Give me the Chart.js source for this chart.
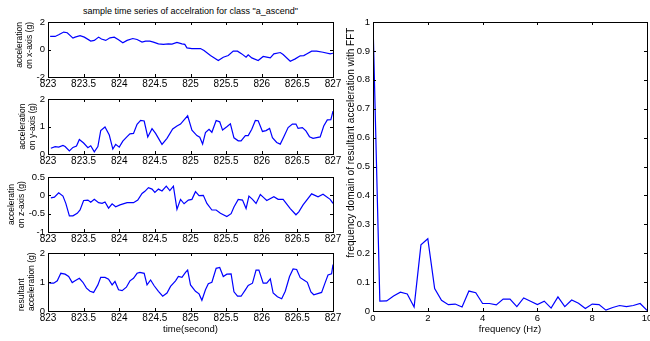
<!DOCTYPE html>
<html><head><meta charset="utf-8">
<script src="https://cdn.jsdelivr.net/npm/chart.js@4/dist/chart.umd.min.js"></script>
<style>
html,body{margin:0;padding:0;background:#fff;width:650px;height:341px;overflow:hidden;position:relative;}
canvas{position:absolute;}
#title{position:absolute;left:48px;width:285px;top:6px;line-height:10px;text-align:center;font-family:"Liberation Sans",Arial,sans-serif;font-size:9px;color:#000;white-space:nowrap;}
</style></head><body>
<div id="title">sample time series of accelration for class "a_ascend"</div>
<canvas id="c1" width="345" height="92" style="left:0;top:0"></canvas>
<canvas id="c2" width="345" height="80" style="left:0;top:90px"></canvas>
<canvas id="c3" width="345" height="80" style="left:0;top:168px"></canvas>
<canvas id="c4" width="345" height="97" style="left:0;top:244px"></canvas>
<canvas id="c5" width="320" height="341" style="left:340px;top:0"></canvas>
<script>
const FONT = '"Liberation Sans", Arial, sans-serif';

// ---- x-axis acceleration ----
const timeX = [823.03,823.10,823.15,823.22,823.27,823.35,823.38,823.45,823.51,823.60,823.65,823.71,823.75,823.81,823.87,823.93,823.99,824.05,824.11,824.19,824.25,824.32,824.37,824.43,824.48,824.55,824.62,824.69,824.74,824.81,824.88,824.92,824.95,825.02,825.14,825.19,825.28,825.39,825.46,825.53,825.60,825.66,825.72,825.78,825.81,825.86,825.95,826.02,826.07,826.12,826.17,826.26,826.30,826.40,826.47,826.54,826.59,826.63,826.70,826.77,826.86,826.96,827.0];
const accX = [0.95,0.95,1.07,1.27,1.22,0.83,0.90,1.00,0.90,0.61,0.66,0.90,0.76,0.66,0.85,0.90,0.71,0.49,0.66,0.80,0.73,0.54,0.61,0.61,0.54,0.41,0.37,0.41,0.39,0.51,0.41,0.37,0.12,0.07,0.07,-0.07,-0.44,-0.80,-0.56,-0.44,-0.12,-0.12,-0.32,-0.56,-0.39,-0.61,-0.80,-0.51,-0.56,-0.61,-0.32,-0.22,-0.37,-0.85,-0.68,-0.46,-0.44,-0.32,-0.12,-0.12,-0.20,-0.32,-0.27];

// ---- y-axis acceleration ----
const timeY = [823.04,823.10,823.15,823.21,823.24,823.30,823.35,823.40,823.44,823.50,823.56,823.60,823.65,823.70,823.74,823.80,823.86,823.91,823.95,824.00,824.05,824.11,824.15,824.20,824.25,824.30,824.35,824.40,824.46,824.51,824.60,824.67,824.75,824.81,824.86,824.91,824.96,825.02,825.09,825.13,825.17,825.21,825.26,825.30,825.36,825.41,825.45,825.51,825.56,825.61,825.67,825.71,825.77,825.81,825.86,825.91,825.95,826.01,826.06,826.11,826.15,826.21,826.26,826.31,826.37,826.43,826.48,826.51,826.57,826.62,826.67,826.72,826.82,826.87,826.92,826.97,827.0];
const accY = [0.21,0.27,0.25,0.31,0.27,0.11,0.24,0.29,0.53,0.40,0.23,0.30,0.08,0.27,0.85,0.98,0.69,0.18,0.35,0.25,0.47,0.63,0.73,0.75,1.08,1.22,1.20,0.62,0.92,0.75,0.35,0.57,0.91,1.02,1.09,1.24,1.39,0.87,0.67,0.61,0.36,0.78,0.90,0.79,1.22,1.17,0.87,0.99,1.10,0.59,0.48,0.48,0.67,0.67,0.90,1.22,1.21,0.82,0.85,0.93,0.59,0.42,0.36,0.63,0.96,1.09,1.09,0.93,0.96,0.84,0.63,0.57,0.62,1.02,1.24,1.25,1.56];

// ---- z-axis acceleration ----
const timeZ = [823.04,823.09,823.15,823.21,823.25,823.30,823.35,823.41,823.45,823.50,823.56,823.60,823.65,823.71,823.76,823.80,823.85,823.90,823.95,824.01,824.11,824.20,824.26,824.32,824.36,824.41,824.46,824.50,824.55,824.60,824.66,824.71,824.76,824.81,824.86,824.91,824.97,825.02,825.07,825.12,825.18,825.23,825.30,825.36,825.42,825.51,825.57,825.61,825.67,825.73,825.78,825.82,825.87,825.92,825.98,826.02,826.07,826.17,826.23,826.30,826.40,826.48,826.52,826.58,826.70,826.79,826.86,826.96,827.0];
const accZ = [-0.07,-0.05,0.07,-0.02,-0.22,-0.56,-0.56,-0.49,-0.40,-0.14,-0.13,-0.19,-0.11,-0.20,-0.22,-0.18,-0.35,-0.23,-0.31,-0.26,-0.20,-0.20,-0.13,0.05,0.11,0.21,0.17,0.08,0.17,0.12,0.25,0.13,0.25,-0.38,-0.11,-0.23,-0.13,-0.11,0.10,-0.01,0.00,-0.22,-0.40,-0.40,-0.49,-0.58,-0.50,-0.32,-0.11,-0.13,-0.36,-0.02,-0.11,-0.22,0.02,-0.05,-0.14,-0.04,-0.11,-0.11,-0.36,-0.53,-0.45,-0.26,0.04,-0.04,0.03,-0.11,-0.22];

// ---- resultant acceleration ----
const timeR = [823.02,823.08,823.13,823.18,823.24,823.29,823.34,823.38,823.44,823.49,823.54,823.59,823.64,823.70,823.74,823.80,823.85,823.90,823.94,823.99,824.04,824.10,824.15,824.20,824.25,824.29,824.35,824.39,824.44,824.49,824.55,824.61,824.67,824.72,824.79,824.83,824.88,824.93,824.96,825.00,825.07,825.12,825.16,825.21,825.25,825.30,825.36,825.41,825.46,825.51,825.57,825.61,825.66,825.71,825.77,825.81,825.87,825.92,825.96,826.02,826.07,826.12,826.16,826.22,826.28,826.33,826.39,826.44,826.49,826.54,826.59,826.64,826.69,826.73,826.84,826.89,826.93,826.98,827.0];
const accR = [0.96,0.96,1.04,1.30,1.27,1.19,0.98,1.04,1.13,0.99,0.79,0.68,0.64,0.90,1.16,1.16,1.10,0.90,1.02,0.73,0.70,0.82,1.04,1.13,1.30,1.33,1.30,0.90,1.07,0.87,0.68,0.51,0.62,0.85,1.04,1.19,1.16,1.33,1.41,0.90,0.68,0.59,0.37,0.73,0.94,0.99,1.47,1.50,1.19,1.27,1.28,0.66,0.51,0.51,0.73,0.88,0.96,1.41,1.41,0.96,0.96,1.11,0.62,0.49,0.42,0.68,1.19,1.45,1.43,1.15,1.07,0.99,0.66,0.56,0.64,0.98,1.24,1.28,1.60];

// ---- FFT of resultant ----
const freq = [0,0.25,0.5,0.75,1,1.25,1.5,1.75,2,2.25,2.5,2.75,3,3.25,3.5,3.75,4,4.25,4.5,4.75,5,5.25,5.5,5.75,6,6.25,6.5,6.75,7,7.25,7.5,7.75,8,8.25,8.5,8.75,9,9.25,9.5,9.75,10];
const fftMag = [1.0,0.034,0.035,0.052,0.065,0.059,0.014,0.229,0.25,0.078,0.037,0.022,0.024,0.014,0.069,0.063,0.026,0.026,0.021,0.041,0.041,0.015,0.045,0.034,0.022,0.034,0.010,0.049,0.015,0.038,0.027,0.009,0.024,0.022,0.003,0.012,0.019,0.015,0.019,0.026,0.002];

const timeTicks = [823,823.5,824,824.5,825,825.5,826,826.5,827];

const boxPlugin = {
  id: 'matlabBox',
  afterDatasetsDraw(chart) {
    const {ctx, chartArea: a, scales: {x, y}} = chart;
    const L = 3;
    ctx.save();
    ctx.strokeStyle = '#000';
    ctx.lineWidth = 1;
    ctx.beginPath();
    x.ticks.forEach(t => {
      const px = Math.round(x.getPixelForValue(t.value)) + 0.5;
      ctx.moveTo(px, a.bottom); ctx.lineTo(px, a.bottom - L);
      ctx.moveTo(px, a.top); ctx.lineTo(px, a.top + L);
    });
    y.ticks.forEach(t => {
      const py = Math.round(y.getPixelForValue(t.value)) + 0.5;
      ctx.moveTo(a.left, py); ctx.lineTo(a.left + L, py);
      ctx.moveTo(a.right, py); ctx.lineTo(a.right - L, py);
    });
    ctx.stroke();
    ctx.strokeRect(Math.round(a.left) + 0.5, Math.round(a.top) + 0.5, Math.round(a.right - a.left), Math.round(a.bottom - a.top));
    ctx.restore();
  }
};

function tsChart(id, t, v, yMin, yMax, yStep, yTitle, yAlign, yTitlePad, padTop, xH, xTitle) {
  new Chart(document.getElementById(id), {
    type: 'line',
    data: { datasets: [{ data: t.map((x, i) => ({ x: x, y: v[i] })), borderColor: '#0000ff', borderWidth: 1.2, pointRadius: 0, fill: false, tension: 0 }] },
    options: {
      responsive: false, animation: false, events: [],
      layout: { padding: { top: padTop, right: 12, left: 0, bottom: 0 } },
      plugins: { legend: { display: false }, tooltip: { enabled: false } },
      scales: {
        x: {
          type: 'linear', min: 823, max: 827,
          afterFit: s => { s.height = xH; },
          afterBuildTicks: s => { s.ticks = timeTicks.map(value => ({ value })); },
          grid: { display: false, drawTicks: false }, border: { display: false },
          ticks: { autoSkip: false, maxRotation: 0, padding: 1, color: '#000', font: { family: FONT, size: 10 }, callback: val => String(val) },
          title: xTitle ? { display: true, text: xTitle, color: '#000', font: { family: FONT, size: 9.5, lineHeight: '11px' }, padding: { top: 0, bottom: 6 } } : { display: false }
        },
        y: {
          type: 'linear', min: yMin, max: yMax,
          afterFit: s => { s.width = 48; },
          grid: { display: false, drawTicks: false }, border: { display: false },
          ticks: { stepSize: yStep, padding: 3, color: '#000', font: { family: FONT, size: 9.5 }, callback: val => String(val) },
          title: { display: true, text: yTitle, align: yAlign, color: '#000', font: { family: FONT, size: 8.5, lineHeight: '10.5px' }, padding: { top: yTitlePad, bottom: 0 } }
        }
      }
    },
    plugins: [boxPlugin]
  });
}

tsChart('c1', timeX, accX, -2, 2, 2, ['acceleration', 'on x-axis (g)'], 'end', 14, 22, 15, null);
tsChart('c2', timeY, accY, 0, 2, 1, ['acceleration', 'on y-axis (g)'], 'center', 17, 9, 16, null);
tsChart('c3', timeZ, accZ, -1, 0.5, 0.5, ['acceleratin', 'on z-axis (g)'], 'center', 6, 9, 16, null);
tsChart('c4', timeR, accR, 0, 2, 1, ['resultant', 'acceleration (g)'], 'start', 16, 9, 30, 'time(second)');

new Chart(document.getElementById('c5'), {
  type: 'line',
  data: { datasets: [{ data: freq.map((f, i) => ({ x: f, y: fftMag[i] })), borderColor: '#0000ff', borderWidth: 1.2, pointRadius: 0, fill: false, tension: 0 }] },
  options: {
    responsive: false, animation: false, events: [],
    layout: { padding: { top: 22, right: 13, left: 0, bottom: 0 } },
    plugins: { legend: { display: false }, tooltip: { enabled: false } },
    scales: {
      x: {
        type: 'linear', min: 0, max: 10,
        afterFit: s => { s.height = 30; },
        grid: { display: false, drawTicks: false }, border: { display: false },
        ticks: { stepSize: 2, autoSkip: false, maxRotation: 0, padding: 2, color: '#000', font: { family: FONT, size: 9.5 }, callback: val => String(val) },
        title: { display: true, text: 'frequency (Hz)', color: '#000', font: { family: FONT, size: 9.5, lineHeight: '11px' }, padding: { top: 0, bottom: 6.5 } }
      },
      y: {
        type: 'linear', min: 0, max: 1,
        afterFit: s => { s.width = 33; },
        grid: { display: false, drawTicks: false }, border: { display: false },
        ticks: { stepSize: 0.1, padding: 3, color: '#000', font: { family: FONT, size: 9.5 }, callback: val => String(+val.toFixed(2)) },
        title: { display: true, text: 'frequency domain of resultant acceleration with FFT  ', align: 'end', color: '#000', font: { family: FONT, size: 10, lineHeight: '12px' }, padding: { top: 5, bottom: 0 } }
      }
    }
  },
  plugins: [boxPlugin]
});
</script>
</body></html>
